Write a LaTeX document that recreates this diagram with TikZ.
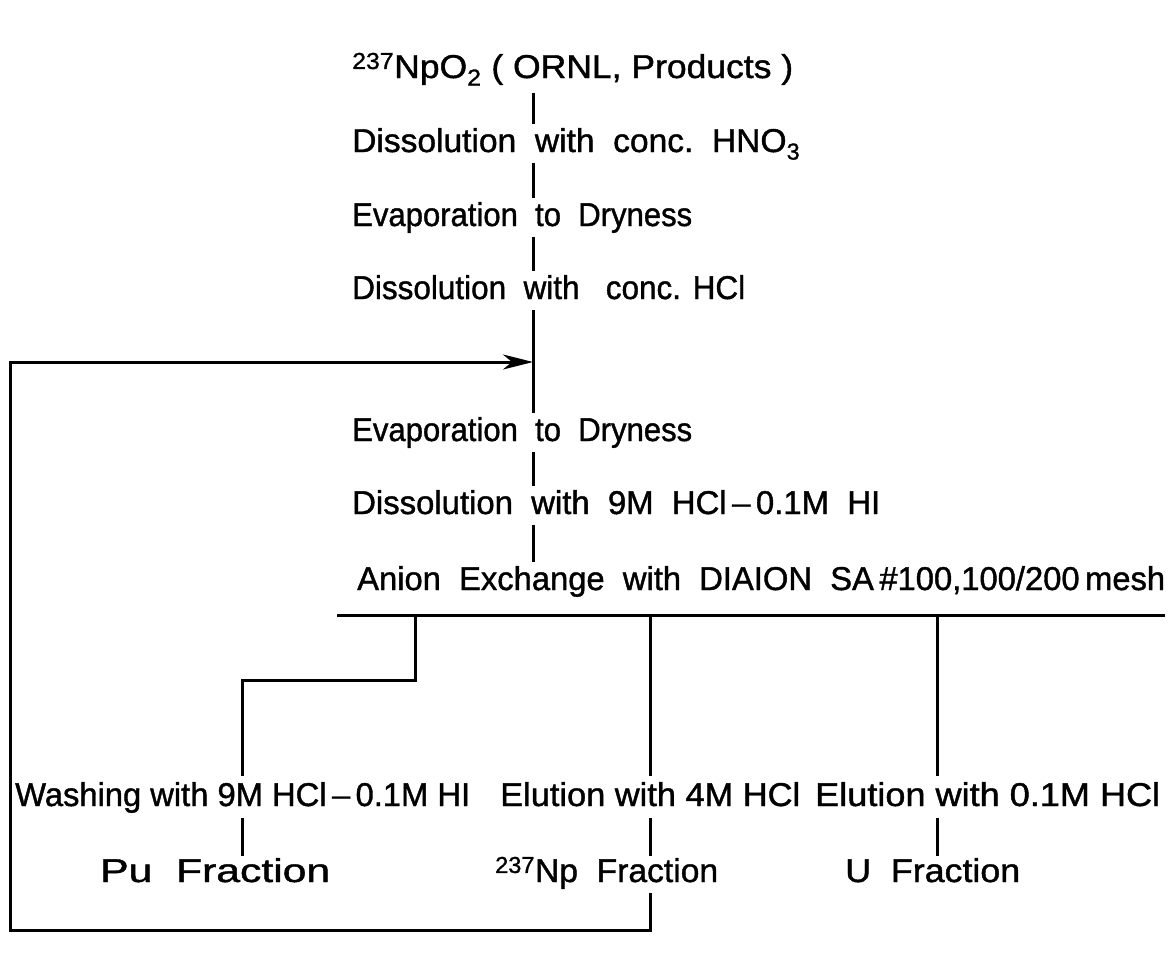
\documentclass[tikz,border=0pt]{standalone}
\usepackage{fontspec}
\setmainfont[FakeBold=1.2]{Liberation Sans}
\usepackage{graphicx}
\usetikzlibrary{arrows.meta}
\newcommand\lett{\fontsize{33}{38}\selectfont}
\newcommand\fitw[2]{\resizebox{#1}{\height}{#2}}
\begin{document}
\begin{tikzpicture}[x=1pt,y=-1pt,
  txt/.style={inner sep=0pt, anchor=base west, font=\lett},
  wire/.style={line width=3pt, line cap=butt},
  tip/.style={-{Stealth[length=30pt,width=15pt,inset=9pt]}}]
\useasboundingbox (0,0) rectangle (1170,956);
\coordinate (sp) at (533,0);
\node[txt] (t0) at (352,78)  {\fitw{441pt}{\textsuperscript{237}NpO\textsubscript{2} ( ORNL, Products )}};
\node[txt] (t1) at (352,152) {\fitw{448pt}{Dissolution\ \ with\ \ conc.\ \ HNO\textsubscript{3}}};
\node[txt] (t2) at (352,226) {\fitw{340pt}{Evaporation\ \ to\ \ Dryness}};
\node[txt] (t3) at (352,299) {\fitw{393pt}{Dissolution\ \ with\ \ \ conc. HCl}};
\node[txt] (t4) at (352,441) {\fitw{340pt}{Evaporation\ \ to\ \ Dryness}};
\node[txt] (t5) at (352,514) {\fitw{528pt}{Dissolution\ \ with\ \ 9M\ \ HCl\,--\,0.1M\ \ HI}};
\node[txt] (t6) at (357,590) {\fitw{808pt}{Anion\ \ Exchange\ \ with\ \ DIAION\ \ SA\,\#100,100/200\,mesh}};
\node[txt] (w1) at (15,806)  {\fitw{455pt}{Washing with 9M HCl\,--\,0.1M HI}};
\node[txt] (w2) at (500,806) {\fitw{300pt}{Elution with 4M HCl}};
\node[txt] (w3) at (815,806) {\fitw{345pt}{Elution with 0.1M HCl}};
\node[txt] (f1) at (100,882) {\fitw{230pt}{Pu\ \ Fraction}};
\node[txt] (f2) at (495,882) {\fitw{223pt}{\textsuperscript{237}Np\ \ Fraction}};
\node[txt] (f3) at (845,882) {\fitw{175pt}{U\ \ Fraction}};
% spine connectors
\draw[wire] ([yshift=-15pt]t0.base -| sp) -- ([yshift=28pt]t1.base -| sp);
\draw[wire] ([yshift=-11pt]t1.base -| sp) -- ([yshift=28pt]t2.base -| sp);
\draw[wire] ([yshift=-11pt]t2.base -| sp) -- ([yshift=28pt]t3.base -| sp);
\draw[wire] ([yshift=-11pt]t3.base -| sp) -- ([yshift=28pt]t4.base -| sp);
\draw[wire] ([yshift=-11pt]t4.base -| sp) -- ([yshift=28pt]t5.base -| sp);
\draw[wire] ([yshift=-11pt]t5.base -| sp) -- ([yshift=28pt]t6.base -| sp);
% distribution bar
\coordinate (barL) at (337,615);
\coordinate (barR) at (1165,615);
\draw[wire] (barL) -- (barR);
\coordinate (b1) at (415,615);
\coordinate (b2) at (650,615);
\coordinate (b3) at (937,615);
\coordinate (pu) at (242,0);
\draw[wire] (b1) -- (415,680) -| ([yshift=30pt]w1.base -| pu);
\draw[wire] (b2) -- ([yshift=30pt]w2.base -| b2);
\draw[wire] (b3) -- ([yshift=30pt]w3.base -| b3);
% to fractions
\draw[wire] ([yshift=-12pt]w1.base -| pu) -- ([yshift=26pt]f1.base -| pu);
\draw[wire] ([yshift=-12pt]w2.base -| b2) -- ([yshift=26pt]f2.base -| b2);
\draw[wire] ([yshift=-12pt]w3.base -| b3) -- ([yshift=26pt]f3.base -| b3);
% recycle loop
\coordinate (ret) at (533,362);
\draw[wire,tip] ([yshift=-11pt]f2.base -| b2) -- (650,930) -| (10,362) -- (ret);
\end{tikzpicture}
\end{document}
